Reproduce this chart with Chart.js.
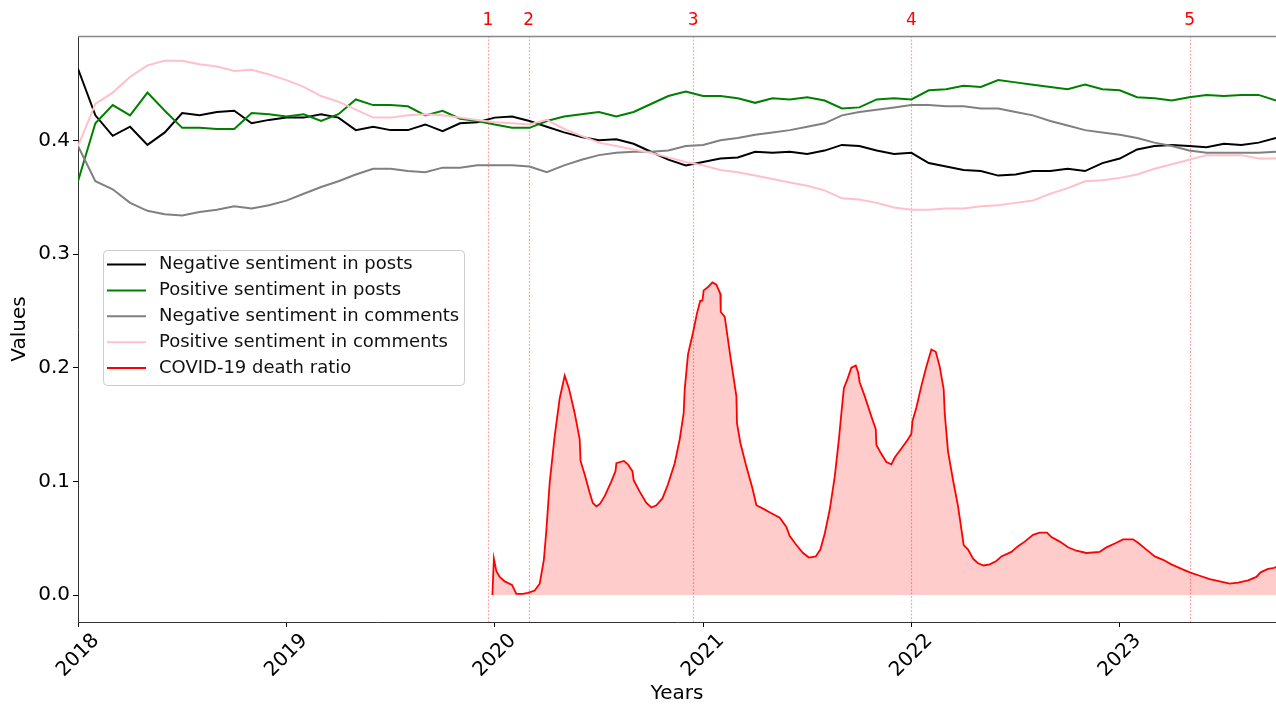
<!DOCTYPE html>
<html>
<head>
<meta charset="utf-8">
<title>Sentiment and COVID-19 death ratio</title>
<script src="https://cdn.jsdelivr.net/npm/chart.js@4.4.0/dist/chart.umd.min.js"></script>
<style>
  html, body { margin: 0; padding: 0; background: #fff; }
  #wrap { width: 1276px; height: 707px; }
</style>
</head>
<body>
<div id="wrap"><canvas id="chart" width="1276" height="707"></canvas></div>
<script>
// monthly series, Jan 2018 .. Oct 2023
var startYear = 2018;
var negPosts = [0.463, 0.422, 0.404, 0.412, 0.396, 0.407, 0.424, 0.422, 0.425, 0.426, 0.415, 0.418,
  0.420, 0.420, 0.423, 0.420, 0.409, 0.412, 0.409, 0.409, 0.414, 0.408, 0.415, 0.416,
  0.420, 0.421, 0.417, 0.412, 0.407, 0.403, 0.400, 0.401, 0.397, 0.390, 0.383, 0.378,
  0.381, 0.384, 0.385, 0.390, 0.389, 0.390, 0.388, 0.391, 0.396, 0.395, 0.391, 0.388,
  0.389, 0.380, 0.377, 0.374, 0.373, 0.369, 0.370, 0.373, 0.373, 0.375, 0.373, 0.380,
  0.384, 0.392, 0.395, 0.396, 0.395, 0.394, 0.397, 0.396, 0.398, 0.402];
var posPosts = [0.364, 0.415, 0.431, 0.422, 0.442, 0.426, 0.411, 0.411, 0.410, 0.410, 0.424, 0.423,
  0.421, 0.423, 0.417, 0.423, 0.436, 0.431, 0.431, 0.430, 0.422, 0.426, 0.419, 0.417,
  0.414, 0.411, 0.411, 0.417, 0.421, 0.423, 0.425, 0.421, 0.425, 0.432, 0.439, 0.443,
  0.439, 0.439, 0.437, 0.433, 0.437, 0.436, 0.438, 0.435, 0.428, 0.429, 0.436, 0.437,
  0.436, 0.444, 0.445, 0.448, 0.447, 0.453, 0.451, 0.449, 0.447, 0.445, 0.449, 0.445,
  0.444, 0.438, 0.437, 0.435, 0.438, 0.440, 0.439, 0.440, 0.440, 0.435];
var negComments = [0.395, 0.364, 0.357, 0.345, 0.338, 0.335, 0.334, 0.337, 0.339, 0.342, 0.340, 0.343,
  0.347, 0.353, 0.359, 0.364, 0.370, 0.375, 0.375, 0.373, 0.372, 0.376, 0.376, 0.378,
  0.378, 0.378, 0.377, 0.372, 0.378, 0.383, 0.387, 0.389, 0.390, 0.390, 0.391, 0.395,
  0.396, 0.400, 0.402, 0.405, 0.407, 0.409, 0.412, 0.415, 0.422, 0.425, 0.427, 0.429,
  0.431, 0.431, 0.430, 0.430, 0.428, 0.428, 0.425, 0.422, 0.417, 0.413, 0.409, 0.407,
  0.405, 0.402, 0.398, 0.395, 0.391, 0.389, 0.389, 0.389, 0.389, 0.390];
var posComments = [0.395, 0.432, 0.442, 0.456, 0.466, 0.470, 0.470, 0.467, 0.465, 0.461, 0.462, 0.458,
  0.453, 0.447, 0.439, 0.434, 0.427, 0.420, 0.420, 0.422, 0.423, 0.422, 0.420, 0.418,
  0.416, 0.415, 0.414, 0.418, 0.410, 0.404, 0.398, 0.395, 0.392, 0.389, 0.385, 0.381,
  0.378, 0.374, 0.372, 0.369, 0.366, 0.363, 0.360, 0.356, 0.349, 0.348, 0.345, 0.341,
  0.339, 0.339, 0.340, 0.340, 0.342, 0.343, 0.345, 0.347, 0.353, 0.358, 0.364, 0.365,
  0.367, 0.370, 0.375, 0.379, 0.383, 0.387, 0.387, 0.387, 0.384, 0.384];

// covid death ratio, x in decimal years
var covidDates = [2019.989, 2019.996, 2020.008, 2020.024, 2020.048, 2020.083, 2020.104, 2020.135, 2020.159, 2020.192,
  2020.216, 2020.236, 2020.248, 2020.264, 2020.288, 2020.312, 2020.336, 2020.356, 2020.384, 2020.408,
  2020.412, 2020.432, 2020.456, 2020.471, 2020.488, 2020.504, 2020.528, 2020.560, 2020.580, 2020.584,
  2020.620, 2020.639, 2020.661, 2020.667, 2020.696, 2020.728, 2020.752, 2020.776, 2020.805, 2020.831,
  2020.864, 2020.888, 2020.907, 2020.912, 2020.928, 2020.952, 2020.971, 2020.987, 2020.997, 2021.003,
  2021.024, 2021.045, 2021.064, 2021.083, 2021.085, 2021.104, 2021.131, 2021.160, 2021.163, 2021.179,
  2021.208, 2021.237, 2021.256, 2021.288, 2021.328, 2021.368, 2021.400, 2021.416, 2021.448, 2021.480,
  2021.508, 2021.541, 2021.563, 2021.584, 2021.608, 2021.632, 2021.652, 2021.664, 2021.676, 2021.693,
  2021.712, 2021.733, 2021.744, 2021.752, 2021.776, 2021.808, 2021.829, 2021.832, 2021.856, 2021.880,
  2021.904, 2021.920, 2021.952, 2021.984, 2022.000, 2022.005, 2022.024, 2022.048, 2022.072, 2022.096,
  2022.117, 2022.136, 2022.155, 2022.160, 2022.176, 2022.200, 2022.224, 2022.251, 2022.272, 2022.296,
  2022.320, 2022.347, 2022.376, 2022.408, 2022.432, 2022.480, 2022.512, 2022.544, 2022.584, 2022.616,
  2022.651, 2022.672, 2022.712, 2022.752, 2022.792, 2022.840, 2022.904, 2022.936, 2022.984, 2023.016,
  2023.064, 2023.088, 2023.128, 2023.168, 2023.208, 2023.248, 2023.296, 2023.336, 2023.384, 2023.432,
  2023.480, 2023.528, 2023.568, 2023.616, 2023.656, 2023.676, 2023.712, 2023.744, 2023.750];
var covidValues = [0.000, 0.032, 0.021, 0.016, 0.012, 0.009, 0.001, 0.001, 0.002, 0.004,
  0.010, 0.031, 0.057, 0.099, 0.140, 0.173, 0.193, 0.182, 0.160, 0.137,
  0.118, 0.106, 0.090, 0.081, 0.078, 0.080, 0.087, 0.100, 0.109, 0.116,
  0.118, 0.115, 0.109, 0.101, 0.091, 0.081, 0.077, 0.079, 0.085, 0.097,
  0.116, 0.137, 0.160, 0.181, 0.212, 0.231, 0.248, 0.259, 0.259, 0.268,
  0.271, 0.275, 0.273, 0.265, 0.249, 0.245, 0.210, 0.175, 0.151, 0.134,
  0.113, 0.094, 0.079, 0.076, 0.072, 0.068, 0.060, 0.052, 0.044, 0.037,
  0.033, 0.034, 0.040, 0.054, 0.075, 0.104, 0.137, 0.160, 0.182, 0.190,
  0.200, 0.202, 0.196, 0.187, 0.175, 0.157, 0.146, 0.132, 0.124, 0.117,
  0.115, 0.121, 0.129, 0.137, 0.142, 0.153, 0.165, 0.184, 0.201, 0.216,
  0.214, 0.201, 0.181, 0.160, 0.126, 0.101, 0.078, 0.044, 0.040, 0.032,
  0.028, 0.026, 0.027, 0.030, 0.034, 0.038, 0.043, 0.047, 0.053, 0.055,
  0.055, 0.051, 0.047, 0.042, 0.039, 0.037, 0.038, 0.042, 0.046, 0.049,
  0.049, 0.046, 0.040, 0.034, 0.031, 0.027, 0.023, 0.020, 0.017, 0.014,
  0.012, 0.010, 0.011, 0.013, 0.016, 0.020, 0.023, 0.024, 0.025];

var eventDates = [2019.967, 2020.163, 2020.953, 2022.000, 2023.336];
var eventLabels = ['1', '2', '3', '4', '5'];
var yearTicks = [2018, 2019, 2020, 2021, 2022, 2023];
var valueTicks = [0.0, 0.1, 0.2, 0.3, 0.4];
var seriesNames = ['Negative sentiment in posts', 'Positive sentiment in posts',
  'Negative sentiment in comments', 'Positive sentiment in comments', 'COVID-19 death ratio'];
var seriesColors = ['#000000', '#008000', '#808080', '#ffc0cb', '#ff0000'];

var FONT = 'DejaVu Sans';

function monthPoints(values) {
  var pts = [];
  for (var i = 0; i < values.length; i++) {
    pts.push({x: startYear + i / 12, y: values[i]});
  }
  return pts;
}

function pairPoints(xs, ys) {
  var pts = [];
  for (var i = 0; i < xs.length; i++) pts.push({x: xs[i], y: ys[i]});
  return pts;
}

function lineSet(idx, pts) {
  return {
    label: seriesNames[idx],
    data: pts,
    borderColor: seriesColors[idx],
    backgroundColor: seriesColors[idx],
    borderWidth: 2,
    pointRadius: 0,
    tension: 0,
    fill: false,
    order: 10 - idx
  };
}

var covidSet = lineSet(4, pairPoints(covidDates, covidValues));
covidSet.fill = 'origin';
covidSet.backgroundColor = 'rgba(255,0,0,0.2)';
covidSet.borderWidth = 1.8;

// vertical event lines + their numbers on top
var eventPlugin = {
  id: 'eventLines',
  beforeDatasetsDraw: function(chart) {
    var ctx = chart.ctx, area = chart.chartArea, xs = chart.scales.x;
    ctx.save();
    ctx.strokeStyle = 'rgba(255,0,0,0.35)';
    ctx.lineWidth = 1.2;
    ctx.setLineDash([2, 1.5]);
    for (var i = 0; i < eventDates.length; i++) {
      var px = Math.round(xs.getPixelForValue(eventDates[i])) + 0.5;
      ctx.beginPath();
      ctx.moveTo(px, area.top);
      ctx.lineTo(px, area.bottom);
      ctx.stroke();
    }
    ctx.restore();
  },
  afterDraw: function(chart) {
    var ctx = chart.ctx, area = chart.chartArea, xs = chart.scales.x;
    ctx.save();
    ctx.fillStyle = '#ff0000';
    ctx.font = '17px "' + FONT + '"';
    ctx.textAlign = 'center';
    ctx.textBaseline = 'middle';
    for (var i = 0; i < eventDates.length; i++) {
      ctx.fillText(eventLabels[i], xs.getPixelForValue(eventDates[i]), area.top - 15);
    }
    // top spine
    ctx.strokeStyle = '#888';
    ctx.lineWidth = 1.5;
    ctx.beginPath();
    ctx.moveTo(area.left, area.top + 0.5);
    ctx.lineTo(area.right, area.top + 0.5);
    ctx.stroke();
    ctx.restore();
  }
};

// matplotlib-like legend box inside the plot
var legendPlugin = {
  id: 'boxLegend',
  afterDraw: function(chart) {
    var ctx = chart.ctx;
    var x0 = 103, y0 = 250, w = 361, h = 135, r = 4;
    ctx.save();
    ctx.fillStyle = 'rgba(255,255,255,0.8)';
    ctx.strokeStyle = '#cccccc';
    ctx.lineWidth = 1;
    ctx.beginPath();
    ctx.roundRect(x0 + 0.5, y0 + 0.5, w, h, r);
    ctx.fill();
    ctx.stroke();
    ctx.font = '18px "' + FONT + '"';
    ctx.textBaseline = 'middle';
    ctx.textAlign = 'left';
    var sets = chart.data.datasets;
    for (var i = 0; i < sets.length; i++) {
      var cy = y0 + 14.5 + i * 25.9;
      ctx.strokeStyle = sets[i].borderColor;
      ctx.lineWidth = 2;
      ctx.beginPath();
      ctx.moveTo(107, cy);
      ctx.lineTo(146, cy);
      ctx.stroke();
      ctx.fillStyle = '#111';
      ctx.fillText(sets[i].label, 159, cy);
    }
    ctx.restore();
  }
};

var tickFont = {family: FONT, size: 20};

new Chart(document.getElementById('chart'), {
  type: 'line',
  data: {
    datasets: [
      lineSet(0, monthPoints(negPosts)),
      lineSet(1, monthPoints(posPosts)),
      lineSet(2, monthPoints(negComments)),
      lineSet(3, monthPoints(posComments)),
      covidSet
    ]
  },
  options: {
    responsive: false,
    animation: false,
    layout: {padding: {top: 36, right: 0, bottom: 0, left: 0}},
    plugins: {
      legend: {display: false},
      tooltip: {enabled: false}
    },
    scales: {
      x: {
        type: 'linear',
        min: 2018,
        max: 2023.75,
        afterBuildTicks: function(s) { s.ticks = yearTicks.map(function(v) { return {value: v}; }); },
        afterFit: function(s) { s.height = 85; },
        grid: {drawOnChartArea: false, drawTicks: true, tickLength: 5, tickColor: '#000'},
        border: {display: true, color: '#333', width: 1},
        ticks: {
          minRotation: 45, maxRotation: 45, padding: 2, labelOffset: 18,
          color: '#000', font: tickFont,
          callback: function(v) { return String(v); }
        },
        title: {display: true, text: 'Years', color: '#000', font: tickFont, padding: {top: 0, bottom: 1}}
      },
      y: {
        min: -0.0237,
        max: 0.4918,
        afterBuildTicks: function(s) { s.ticks = valueTicks.map(function(v) { return {value: v}; }); },
        afterFit: function(s) { s.width = 78; },
        grid: {drawOnChartArea: false, drawTicks: true, tickLength: 5, tickColor: '#000'},
        border: {display: true, color: '#333', width: 1},
        ticks: {
          padding: 3, color: '#000', font: tickFont,
          callback: function(v) { return v.toFixed(1); }
        },
        title: {display: true, text: 'Values', color: '#000', font: tickFont, padding: {top: 8, bottom: 0}}
      }
    }
  },
  plugins: [eventPlugin, legendPlugin]
});
</script>
</body>
</html>
